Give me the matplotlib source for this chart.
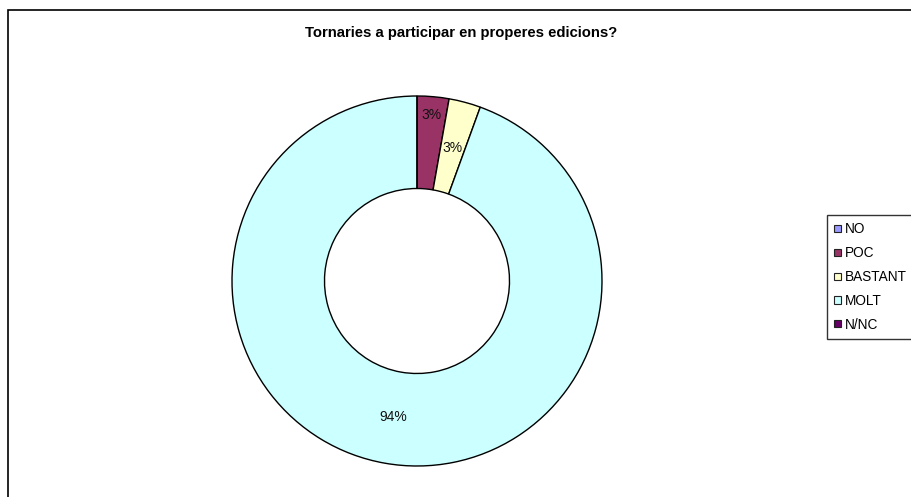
import matplotlib
matplotlib.use("Agg")
import matplotlib.pyplot as plt
from matplotlib.patches import Rectangle, Patch
import numpy as np

plt.rcParams['font.family'] = ['Liberation Sans', 'DejaVu Sans']

# data
categories = ['NO', 'POC', 'BASTANT', 'MOLT', 'N/NC']
counts = [0, 1, 1, 34, 0]
colors = ['#9999FF', '#993366', '#FFFFCC', '#CCFFFF', '#660066']
title = 'Tornaries a participar en properes edicions?'

W, H = 912, 497
fig = plt.figure(figsize=(W / 100, H / 100), dpi=100)
ax = fig.add_axes([0, 0, 1, 1])
ax.set_xlim(0, W)
ax.set_ylim(0, H)
ax.set_aspect('equal')
ax.axis('off')

# chart border (runs off the right and bottom edge)
ax.add_patch(Rectangle((8.5, -10), W + 20, H - 9.5 + 10, fill=False,
                       edgecolor='black', linewidth=1.2))


def pct(p):
    return '' if p < 0.5 else f'{p:.0f}%'


cx, cy, R = 417, H - 281, 185
wedges, _, autotexts = ax.pie(
    counts, colors=colors, startangle=90, counterclock=False,
    center=(cx, cy), radius=R, autopct=pct, pctdistance=0.745,
    wedgeprops=dict(width=R * 0.5, edgecolor='black', linewidth=1.0),
    textprops=dict(fontsize=10, color='#111111'), frame=True)
ax.axis('off')
ax.set_xlim(0, W)
ax.set_ylim(0, H)

# first small slice label sits further out
w = wedges[1]
mid = np.deg2rad((w.theta1 + w.theta2) / 2)
autotexts[1].set_position((cx + 0.9 * R * np.cos(mid), cy + 0.9 * R * np.sin(mid)))

ax.text(461, H - 33, title, ha='center', va='center', fontsize=10.7,
        fontweight='bold')

handles = [Patch(facecolor=c, edgecolor='#222222', linewidth=0.8) for c in colors]
leg = fig.legend(handles, categories, loc='upper left',
                 bbox_to_anchor=(827 / W, 1 - 215 / H), fontsize=9.8,
                 frameon=True, fancybox=False, edgecolor='black',
                 handlelength=0.45, handleheight=0.45, handletextpad=0.3,
                 labelspacing=0.72, borderpad=0.55, borderaxespad=0)
leg.get_frame().set_linewidth(1.0)

fig.savefig('out.png', dpi=100)
